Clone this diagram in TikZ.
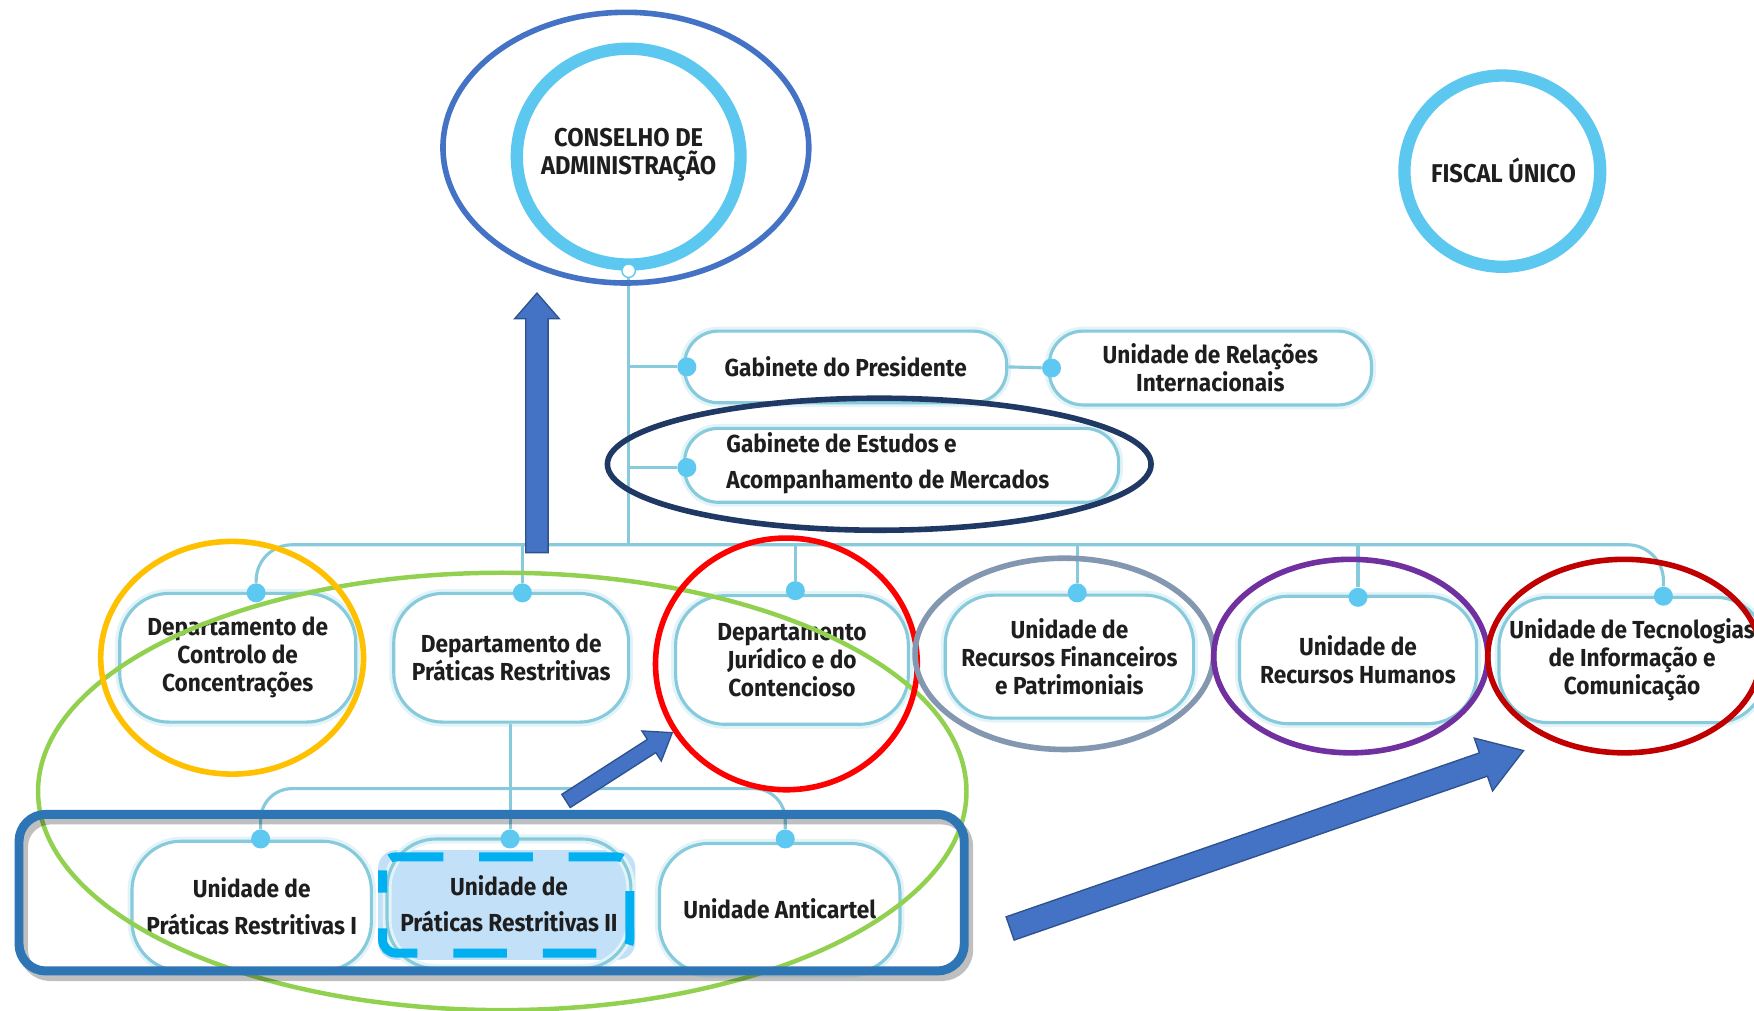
\documentclass[tikz,border=0pt]{standalone}
\usepackage{fontspec}
\setmainfont{Fira Sans}[FakeStretch=0.92]
\usetikzlibrary{calc,shapes.geometric}
\definecolor{ringC}{HTML}{5CC8F0}
\definecolor{lineC}{HTML}{86CADB}
\definecolor{glowC}{HTML}{E3F4F8}
\definecolor{dotC}{HTML}{5EC9F0}
\definecolor{txtC}{HTML}{1E1E1E}
\definecolor{annBlue}{HTML}{4472C4}
\definecolor{annNavy}{HTML}{1F3864}
\definecolor{annOrange}{HTML}{FFC000}
\definecolor{annGreen}{HTML}{92D050}
\definecolor{annRed}{HTML}{FF0000}
\definecolor{annGrey}{HTML}{8497B0}
\definecolor{annPurple}{HTML}{7030A0}
\definecolor{annDark}{HTML}{C00000}
\definecolor{frameC}{HTML}{2E75B6}
\definecolor{hlDash}{HTML}{00B0F0}
\definecolor{hlFill}{HTML}{B3D9F7}
\definecolor{arrowC}{HTML}{4472C4}
\definecolor{arrowE}{HTML}{2F528F}
\tikzset{
  orgbox/.style={draw=lineC, line width=1.4pt, preaction={draw=glowC, line width=4pt},
    fill=white, rounded corners=22pt, align=center, inner sep=0pt, text=txtC,
    font=\bfseries\fontsize{11}{12.5}\selectfont},
  flatbox/.style={orgbox, rounded corners=15pt},
  lbl/.style={inner sep=0pt, text=txtC, align=left, font=\bfseries\fontsize{11}{16}\selectfont},
  ring/.style={ellipse, draw=ringC, line width=5.5pt, inner sep=0pt},
  ringlbl/.style={inner sep=0pt, align=center, text=txtC, font=\bfseries\fontsize{11.5}{12.5}\selectfont},
  dotn/.style={circle, fill=dotC, inner sep=0pt, minimum size=8.5pt},
  wdot/.style={circle, fill=white, draw=ringC, line width=0.6pt, inner sep=0pt, minimum size=6pt},
  link/.style={draw=lineC, line width=1.4pt},
  annot/.style={line width=2.5pt},
  barrow/.style={fill=arrowC, draw=arrowE, line width=0.6pt, line join=miter},
}
\newcommand\blockarrow[5]{%
  \path ($(#2)!#5!(#1)$) coordinate (ah);
  \filldraw[barrow] ($(#1)!#3!90:(#2)$) -- ($(ah)!#3!90:(#2)$) -- ($(ah)!#4!90:(#2)$)
    -- (#2) -- ($(ah)!#4!-90:(#2)$) -- ($(ah)!#3!-90:(#2)$) -- ($(#1)!#3!-90:(#2)$) -- cycle;}
\begin{document}
\begin{tikzpicture}[x=0.5pt, y=-0.5pt]
\useasboundingbox[fill=white] (0,0) rectangle (1568,903);

% top circles
\node[ring, minimum width=100pt, minimum height=96.5pt] (cons) at (562,140) {};
\node[ringlbl] (consl) at (562,138) {CONSELHO DE\\ADMINISTRAÇÃO};
\node[ring, minimum width=87.5pt, minimum height=85.5pt] (fisc) at (1343,153) {};
\node[ringlbl] (fiscl) at (1344,152) {FISCAL ÚNICO};

% gabinetes
\node[flatbox, minimum width=144pt, minimum height=32pt] (gp) at (756,328) {Gabinete do Presidente};
\node[flatbox, minimum width=144pt, minimum height=33pt] (uri) at (1082,329) {Unidade de Relações\\Internacionais};
\node[flatbox, minimum width=194pt, minimum height=33pt] (ge) at (806,416) {};
\node[lbl, anchor=west] (get) at (649,414) {Gabinete de Estudos e\\Acompanhamento de Mercados};

% top-row boxes
\node[orgbox, minimum width=105.5pt, minimum height=57.5pt] (dcc) at (212.5,588) {Departamento de\\Controlo de\\Concentrações};
\node[orgbox, minimum width=105pt, minimum height=57.5pt] (dpr) at (457,588) {Departamento de\\Práticas Restritivas};
\node[orgbox, minimum width=104pt, minimum height=57.5pt] (djc) at (708,590) {Departamento\\Jurídico e do\\Contencioso};
\node[orgbox, minimum width=111pt, minimum height=55pt] (urf) at (956,587) {Unidade de\\Recursos Financeiros\\e Patrimoniais};
\node[orgbox, minimum width=106pt, minimum height=57pt] (urh) at (1214,590) {Unidade de\\Recursos Humanos};
\node[orgbox, minimum width=119pt, minimum height=56pt] (uti) at (1459,590) {Unidade de Tecnologias\\de Informação e\\Comunicação};

% lower boxes
\node[orgbox, minimum width=107pt, minimum height=58pt, font=\bfseries\fontsize{11}{16.5}\selectfont] (u1) at (225,810) {Unidade de\\Práticas Restritivas I};
\fill[hlFill, opacity=0.8, rounded corners=8pt] (338,760) rectangle (568,858);
\node[orgbox, fill=none, preaction={}, minimum width=109pt, minimum height=58pt, font=\bfseries\fontsize{11}{16}\selectfont] (u2) at (455,808) {Unidade de\\Práticas Restritivas II};
\node[orgbox, minimum width=107.5pt, minimum height=58pt] (u3) at (697,812) {Unidade Anticartel};

% connector dots
\coordinate (busC) at (562,487);
\coordinate (lbus) at (456,705);
\node[wdot] (cdot) at (cons.south) {};
\node[dotn] (gpdot) at (614,328) {};
\node[dotn] (gedot) at (614,418) {};
\node[dotn] (rdot) at (940,329) {};
\node[dotn] (d1) at (229,530) {};
\node[dotn] (d2) at (467,530) {};
\node[dotn] (d3) at (711,528) {};
\node[dotn] (d4) at (963,530) {};
\node[dotn] (d5) at (1214,534) {};
\node[dotn] (d6) at (1487,533) {};
\node[dotn] (e1) at (233,750) {};
\node[dotn] (e2) at (456,750) {};
\node[dotn] (e3) at (702,750) {};

% connectors
\draw[link] (cdot) -- (busC);
\draw[link] (gpdot) -- (gpdot -| busC);
\draw[link] (gedot) -- (gedot -| busC);
\draw[link] (gp.east) -- (rdot);
\draw[link, rounded corners=16pt] (d1) |- (busC) -| (d6);
\draw[link] (d2) -- (d2 |- busC);
\draw[link] (d3) -- (d3 |- busC);
\draw[link] (d4) -- (d4 |- busC);
\draw[link] (d5) -- (d5 |- busC);
\draw[link] (dpr.south -| e2) -- (e2);
\draw[link, rounded corners=14pt] (e1) |- (lbus) -| (e3);

% annotations
\draw[annot, annBlue] (559.5,132) ellipse [x radius=81.75pt, y radius=60.5pt];
\draw[annot, annNavy] (786,415) ellipse [x radius=121.5pt, y radius=29.5pt];
\draw[annot, annGreen, line width=2pt] (449,707.5) ellipse [x radius=207.5pt, y radius=97.75pt];
\draw[annot, annOrange] (207.5,588) ellipse [x radius=58.75pt, y radius=52pt];
\draw[annot, annRed] (703,593.5) ellipse [x radius=58.5pt, y radius=56.25pt];
\draw[annot, annGrey] (951.5,584.5) ellipse [x radius=66.75pt, y radius=42.75pt];
\draw[annot, annPurple] (1207.5,586.5) ellipse [x radius=61.25pt, y radius=43.25pt];
\draw[annot, annDark] (1452,586.5) ellipse [x radius=61pt, y radius=43.25pt];

% highlight dashed box
\draw[hlDash, line width=4pt, dash pattern=on 24pt off 16pt, dash phase=14pt, rounded corners=6pt] (342,766) rectangle (563,852);

% blue frame with shadow
\draw[black, opacity=0.25, line width=4pt, rounded corners=12pt] (21,733) rectangle (866,873);
\draw[frameC, line width=4pt, rounded corners=12pt] (17,728) rectangle (862,868);

% block arrows
\coordinate (a1s) at (480,494); \coordinate (a1e) at (480,262);
\coordinate (a2s) at (506,716); \coordinate (a2e) at (601,655);
\coordinate (a3s) at (903,830); \coordinate (a3e) at (1362,671);
\blockarrow{a1s}{a1e}{5pt}{10pt}{11.5pt}
\blockarrow{a2s}{a2e}{3.5pt}{8pt}{11pt}
\blockarrow{a3s}{a3e}{5.5pt}{12.5pt}{19pt}
\end{tikzpicture}
\end{document}
